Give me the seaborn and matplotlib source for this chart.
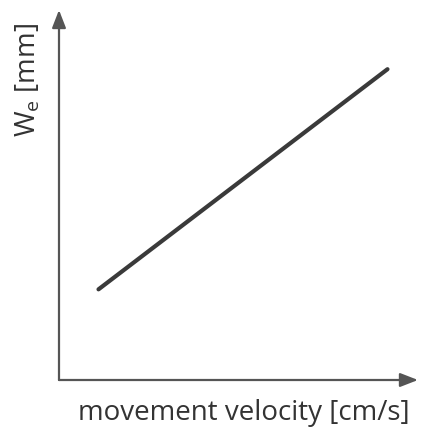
import matplotlib
matplotlib.use("Agg")
import matplotlib.pyplot as plt
import seaborn as sns
import pandas as pd

velocity = [1.1, 9.15]
width_e = [2.45, 8.4]
x_label = "movement velocity [cm/s]"
y_label = r"W$_{\mathrm{e}}$ [mm]"

sns.set_theme(style="white")
plt.rcParams['font.family'] = ['Open Sans', 'DejaVu Sans']
plt.rcParams['mathtext.fontset'] = 'custom'
plt.rcParams['mathtext.rm'] = 'Open Sans'
plt.rcParams['mathtext.it'] = 'Open Sans'

fig = plt.figure(figsize=(4.23, 4.30), dpi=100)
W, H = 423, 430
ax = fig.add_axes([59 / W, (H - 380) / H, (418 - 59) / W, (380 - 10) / H])

df = pd.DataFrame({"v": velocity, "w": width_e})
sns.lineplot(data=df, x="v", y="w", ax=ax, color="#3a3a3a", linewidth=3.0,
             solid_capstyle="round")
ax.set_xlim(0, 10)
ax.set_ylim(0, 10)
ax.set_xticks([])
ax.set_yticks([])
ax.set_ylabel("")
for s in ax.spines.values():
    s.set_visible(False)

axc = "#555555"
ax.annotate("", xy=(1.0, 0), xytext=(0, 0), xycoords="axes fraction",
            arrowprops=dict(arrowstyle="-|>,head_length=0.9,head_width=0.35",
                            color=axc, lw=1.6, shrinkA=0, shrinkB=0))
ax.annotate("", xy=(0, 1.0), xytext=(0, 0), xycoords="axes fraction",
            arrowprops=dict(arrowstyle="-|>,head_length=0.9,head_width=0.35",
                            color=axc, lw=1.6, shrinkA=0, shrinkB=0))

ax.set_xlabel(x_label, fontsize=20, color="#333333", labelpad=14)
ax.xaxis.set_label_coords(0.515, -0.035, transform=None) if False else None
ax.xaxis.label.set_x(0.515)
ax.text(-0.087, 0.81, y_label, rotation=90, fontsize=20, color="#333333",
        ha="center", va="center", transform=ax.transAxes)

fig.savefig("out.png", dpi=100)
